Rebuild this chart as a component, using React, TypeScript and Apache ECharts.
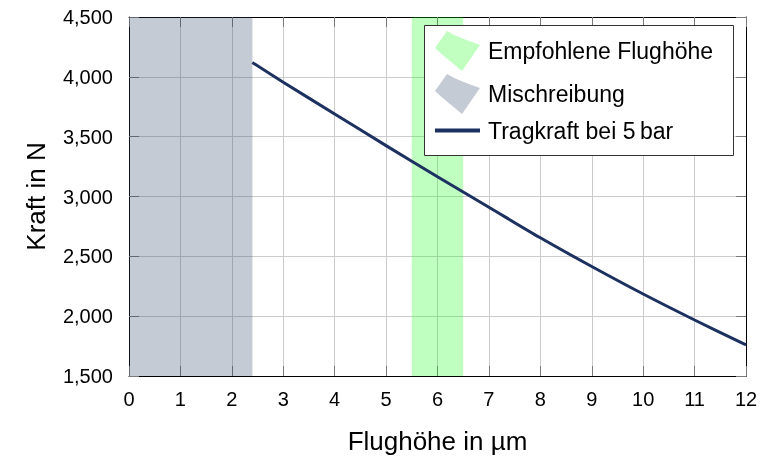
import React, { useEffect, useRef } from "react";
import * as echarts from "echarts";

const flyHeights = [2.4, 3, 4, 5, 6, 7, 8, 9, 10, 11, 12];
const liftForce = [4120, 3955, 3690, 3425, 3165, 2910, 2655, 2415, 2185, 1968, 1760];
const recommendedRange = [5.5, 6.5];
const mixedFrictionRange = [0, 2.4];
const seriesNames = ["Empfohlene Flughöhe", "Mischreibung", "Tragkraft bei 5\u2009bar"];

const FONT = "Liberation Sans, Arial, Helvetica, sans-serif";
const AREA_ICON = "path://M0,17 L12,0 C22,6 34,10 45,14 L27,40 C18,32 8,25 0,17 Z";
const LINE_ICON = "path://M0,0 H45 V4 H0 Z";

export default function App() {
  const ref = useRef<HTMLDivElement>(null);
  useEffect(() => {
    if (!ref.current) return;
    const chart = echarts.init(ref.current, undefined, { renderer: "svg" });
    const tickStyle = { show: true, inside: true, length: 10, lineStyle: { color: "#7a7a7a", width: 1 } };
    const axisLine = { show: true, onZero: false, lineStyle: { color: "#000", width: 1 } };
    const xBase = { type: "value", min: 0, max: 12, interval: 1 } as any;
    const yBase = { type: "value", min: 1500, max: 4500, interval: 500 } as any;
    const legendBase = (name: string, icon: string, top: number) => ({
      orient: "vertical",
      left: 435,
      top,
      padding: 0,
      itemWidth: 45,
      itemHeight: 40,
      z: 6,
      symbolKeepAspect: true,
      textStyle: { fontSize: 23, color: "#000", fontFamily: FONT, padding: [0, 0, 0, 3] },
      data: [{ name, icon }],
    });
    chart.setOption({
      animation: false,
      grid: { left: 129, right: 32, top: 17, bottom: 83 },
      xAxis: [
        {
          ...xBase,
          position: "bottom",
          axisLine,
          axisTick: tickStyle,
          splitLine: { show: true, lineStyle: { color: "#cccccc", width: 1 } },
          axisLabel: { fontSize: 20, color: "#000", fontFamily: FONT, margin: 13 },
          name: "Flughöhe in µm",
          nameLocation: "middle",
          nameGap: 52,
          nameTextStyle: { fontSize: 26, color: "#000", fontFamily: FONT },
        },
        { ...xBase, position: "top", axisLine, axisTick: tickStyle, axisLabel: { show: false }, splitLine: { show: false } },
      ],
      yAxis: [
        {
          ...yBase,
          position: "left",
          axisLine,
          axisTick: tickStyle,
          splitLine: { show: true, lineStyle: { color: "#cccccc", width: 1 } },
          axisLabel: {
            fontSize: 20,
            color: "#000",
            fontFamily: FONT,
            margin: 16,
            formatter: (v: number) => v.toLocaleString("en-US"),
          },
          name: "Kraft in N",
          nameLocation: "middle",
          nameGap: 80,
          nameTextStyle: { fontSize: 26, color: "#000", fontFamily: FONT },
        },
        { ...yBase, position: "right", axisLine, axisTick: tickStyle, axisLabel: { show: false }, splitLine: { show: false } },
      ],
      legend: [
        legendBase(seriesNames[0], AREA_ICON, 31),
        legendBase(seriesNames[1], AREA_ICON, 74),
        legendBase(seriesNames[2], LINE_ICON, 119),
      ],
      graphic: [
        {
          type: "rect",
          z: 5,
          shape: { x: 424.5, y: 25.5, width: 309, height: 130 },
          style: { fill: "#fff", stroke: "#333", lineWidth: 1 },
        },
      ],
      series: [
        {
          name: seriesNames[0],
          type: "line",
          data: [],
          itemStyle: { color: "#c0ffc0" },
          markArea: {
            silent: true,
            itemStyle: { color: "rgba(0,255,0,0.25)" },
            data: [[{ xAxis: recommendedRange[0] }, { xAxis: recommendedRange[1] }]],
          },
        },
        {
          name: seriesNames[1],
          type: "line",
          data: [],
          itemStyle: { color: "#c5cbd5" },
          markArea: {
            silent: true,
            itemStyle: { color: "rgba(40,62,99,0.27)" },
            data: [[{ xAxis: mixedFrictionRange[0] }, { xAxis: mixedFrictionRange[1] }]],
          },
        },
        {
          name: seriesNames[2],
          type: "line",
          smooth: 0.3,
          showSymbol: false,
          data: flyHeights.map((x, i) => [x, liftForce[i]]),
          itemStyle: { color: "#1c3160" },
          lineStyle: { color: "#1c3160", width: 3 },
        },
      ],
    });
    return () => chart.dispose();
  }, []);
  return <div ref={ref} style={{ position: "fixed", left: 0, top: 0, width: 778, height: 459 }} />;
}
